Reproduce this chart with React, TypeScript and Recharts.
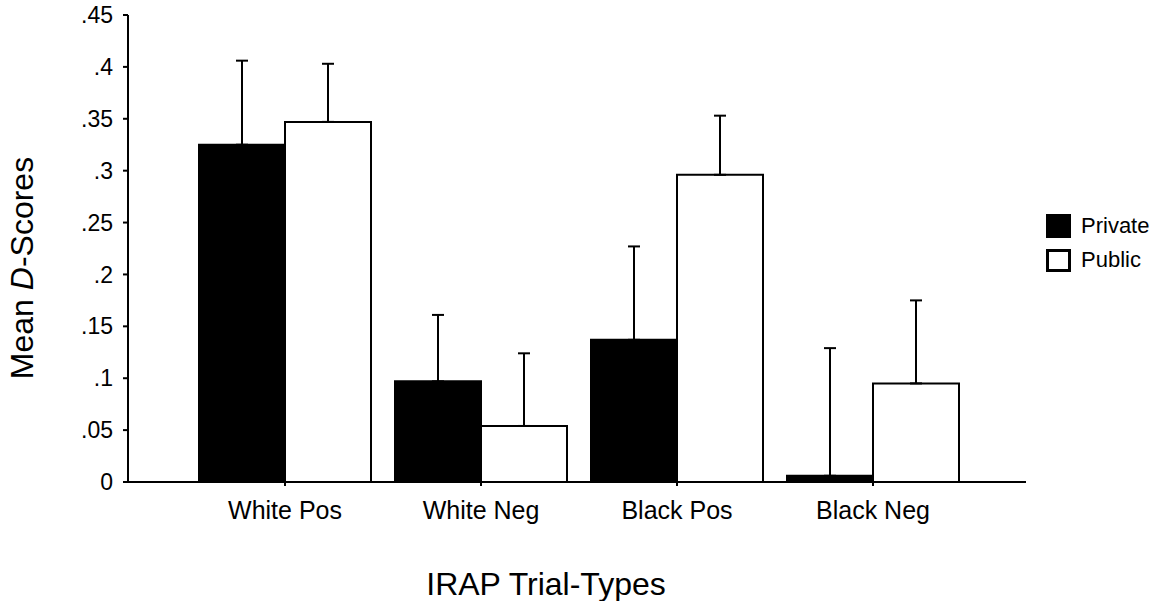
import React from 'react';
import { BarChart, Bar, XAxis, YAxis, ErrorBar, Legend } from 'recharts';

if (typeof document !== 'undefined') {
  document.body.style.margin = '0';
}

const categories = ['White Pos', 'White Neg', 'Black Pos', 'Black Neg'];
const privateMeans = [0.325, 0.097, 0.137, 0.006];
const privateUpper = [0.406, 0.161, 0.227, 0.129];
const publicMeans = [0.347, 0.054, 0.296, 0.095];
const publicUpper = [0.403, 0.124, 0.353, 0.175];
const majorTicks = [0, 0.05, 0.1, 0.15, 0.2, 0.25, 0.3, 0.35, 0.4, 0.45];
const minorTicks = [0.025, 0.075, 0.125, 0.175, 0.225, 0.275, 0.325, 0.375, 0.425];

const data = categories.map((name, i) => ({
  name,
  private: privateMeans[i],
  public: publicMeans[i],
  privateErr: [0, +(privateUpper[i] - privateMeans[i]).toFixed(3)],
  publicErr: [0, +(publicUpper[i] - publicMeans[i]).toFixed(3)],
}));

const FONT = '"Liberation Sans", Arial, Helvetica, sans-serif';

const fmt = (v: number) => (v === 0 ? '0' : String(v).replace(/^0/, ''));

const YLabel = () => (
  <text
    x={33}
    y={268}
    transform="rotate(-90, 33, 268)"
    textAnchor="middle"
    fontFamily={FONT}
    fontSize={32}
    fill="#000"
  >
    Mean <tspan fontStyle="italic">D</tspan>-Scores
  </text>
);

const XLabel = () => (
  <text x={546} y={595} textAnchor="middle" fontFamily={FONT} fontSize={32} fill="#000">
    IRAP Trial-Types
  </text>
);

const LegendContent = () => (
  <div style={{ fontFamily: FONT, fontSize: 22, color: '#000' }}>
    <div style={{ display: 'flex', alignItems: 'center', height: 25, marginBottom: 10 }}>
      <div style={{ width: 25, height: 24, background: '#000', boxSizing: 'border-box' }} />
      <span style={{ marginLeft: 10 }}>Private</span>
    </div>
    <div style={{ display: 'flex', alignItems: 'center', height: 24 }}>
      <div style={{ width: 25, height: 23, background: '#fff', border: '3px solid #000', boxSizing: 'border-box' }} />
      <span style={{ marginLeft: 10 }}>Public</span>
    </div>
  </div>
);

export default function App() {
  return (
    <div style={{ width: 1163, height: 601, background: '#fff' }}>
      <BarChart
        width={1163}
        height={601}
        data={data}
        margin={{ top: 15, right: 20, left: 68, bottom: 89 }}
        barSize={86}
        barGap={0}
      >
        <YAxis
          yAxisId="minor"
          width={0}
          domain={[0, 0.45]}
          ticks={minorTicks}
          tick={false}
          tickSize={3}
          axisLine={false}
          tickLine={{ stroke: '#000', strokeWidth: 1.5 }}
          allowDataOverflow
        />
        <YAxis
          yAxisId="main"
          width={60}
          domain={[0, 0.45]}
          ticks={majorTicks}
          tickFormatter={fmt}
          tickSize={5}
          tickMargin={10}
          axisLine={{ stroke: '#000', strokeWidth: 2 }}
          tickLine={{ stroke: '#000', strokeWidth: 2 }}
          tick={{ fill: '#000', fontFamily: FONT, fontSize: 23 }}
          interval={0}
          allowDataOverflow
          label={<YLabel />}
        />
        <XAxis
          dataKey="name"
          height={30}
          padding={{ left: 59, right: 55 }}
          tickSize={4}
          tickMargin={15}
          axisLine={{ stroke: '#000', strokeWidth: 2 }}
          tickLine={{ stroke: '#000', strokeWidth: 2 }}
          tick={{ fill: '#000', fontFamily: FONT, fontSize: 25 }}
          interval={0}
          label={<XLabel />}
        />
        <Legend
          verticalAlign="top"
          align="right"
          layout="vertical"
          wrapperStyle={{ position: 'absolute', left: 1046, top: 213, width: 117 }}
          content={<LegendContent />}
        />
        <Bar
          yAxisId="main"
          dataKey="private"
          name="Private"
          fill="#000"
          stroke="#000"
          strokeWidth={2}
          isAnimationActive={false}
        >
          <ErrorBar dataKey="privateErr" direction="y" width={6} stroke="#000" strokeWidth={2} isAnimationActive={false} />
        </Bar>
        <Bar
          yAxisId="main"
          dataKey="public"
          name="Public"
          fill="#fff"
          stroke="#000"
          strokeWidth={2}
          isAnimationActive={false}
        >
          <ErrorBar dataKey="publicErr" direction="y" width={6} stroke="#000" strokeWidth={2} isAnimationActive={false} />
        </Bar>
      </BarChart>
    </div>
  );
}
